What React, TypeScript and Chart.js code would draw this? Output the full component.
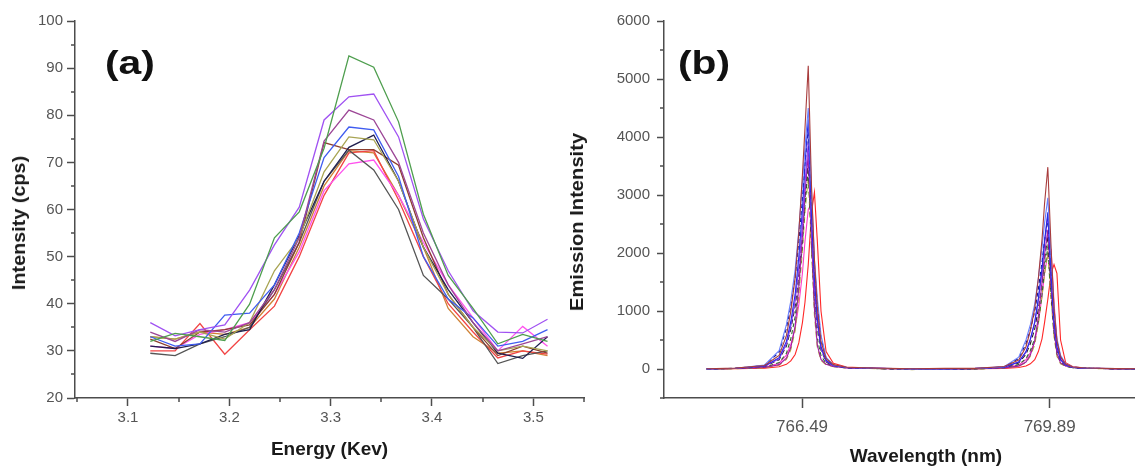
import React, { useEffect, useRef } from "react";
import { Chart, registerables } from "chart.js";
Chart.register(...registerables);

const FONT = "'Liberation Sans', Arial, Helvetica, sans-serif";
const AXIS = "#4d4d4d";
const TICK_TXT = "#555555";

// ---------- Panel (a): XRF peaks ----------
const ENERGY_KEV = [3.122, 3.1465, 3.171, 3.1955, 3.22, 3.2445, 3.269, 3.2935, 3.318, 3.3425, 3.367, 3.3915, 3.416, 3.4405, 3.465, 3.4895, 3.514];
const A_GREEN = [32.0, 33.7, 33.0, 32.2, 39.9, 54.0, 59.5, 73.0, 92.6, 90.2, 78.6, 59.0, 46.0, 39.0, 31.5, 33.5, 32.0];
const A_VIOLET = [36.0, 33.2, 34.5, 35.5, 42.9, 52.5, 60.5, 79.0, 83.9, 84.5, 75.4, 58.0, 47.0, 38.5, 34.0, 33.8, 36.7];
const A_PURPLE = [34.0, 32.0, 34.5, 34.0, 36.0, 43.0, 54.0, 74.5, 81.1, 79.0, 70.0, 55.0, 44.0, 36.0, 30.0, 31.5, 33.0];
const A_BLUE = [33.0, 31.0, 31.5, 37.6, 38.0, 44.0, 55.0, 71.0, 77.5, 76.9, 67.0, 50.0, 41.0, 37.0, 31.0, 32.0, 34.5];
const A_OLIVE = [33.0, 32.5, 34.0, 32.5, 36.0, 47.0, 54.0, 68.0, 75.4, 74.8, 66.0, 52.0, 42.0, 35.0, 30.0, 31.0, 30.0];
const A_NAVY = [31.0, 30.5, 31.5, 33.5, 34.5, 44.0, 54.5, 66.0, 73.2, 75.8, 66.0, 52.0, 43.0, 36.0, 29.5, 28.4, 33.0];
const A_BROWN = [32.5, 30.5, 34.0, 34.5, 35.5, 42.0, 53.0, 74.2, 72.7, 72.7, 69.4, 54.0, 42.0, 35.0, 29.0, 31.0, 29.5];
const A_GRAY = [29.5, 29.0, 31.5, 33.0, 35.0, 43.0, 53.0, 66.0, 72.6, 68.4, 60.0, 46.0, 41.0, 35.0, 27.3, 29.0, 30.0];
const A_PINK = [31.0, 30.5, 33.5, 34.5, 36.0, 42.0, 51.0, 64.0, 69.7, 70.5, 63.0, 53.0, 44.0, 37.0, 30.0, 35.2, 31.0];
const A_RED = [30.0, 30.0, 35.8, 29.3, 34.5, 39.5, 50.0, 63.0, 72.0, 72.5, 62.0, 50.0, 40.0, 34.0, 28.5, 30.0, 29.3];
const A_ORANGE = [33.0, 32.5, 34.0, 33.5, 35.0, 41.0, 52.0, 65.0, 72.5, 72.0, 63.0, 52.0, 39.0, 33.0, 29.5, 30.0, 29.0];

const A_X_MAJOR = [3.1, 3.2, 3.3, 3.4, 3.5];
const A_X_MINOR = [3.05, 3.15, 3.25, 3.35, 3.45, 3.55];
const A_Y_MAJOR = [20, 30, 40, 50, 60, 70, 80, 90, 100];
const A_Y_MINOR = [25, 35, 45, 55, 65, 75, 85, 95];

// ---------- Panel (b): emission spectra ----------
const WAVELENGTH_NM = [765.18, 765.575, 765.975, 766.175, 766.275, 766.335, 766.395, 766.445, 766.495, 766.53, 766.575, 766.62, 766.66, 766.70, 766.75, 766.82, 766.92, 767.1, 767.5, 768.0, 768.45, 768.865, 769.265, 769.465, 769.565, 769.625, 769.685, 769.735, 769.785, 769.82, 769.865, 769.91, 769.95, 769.99, 770.04, 770.11, 770.21, 770.39, 770.8, 771.3, 771.8];
const B_BROWN = [5, 15, 60, 235, 575, 990, 1570, 2350, 3350, 4150, 5230, 3150, 1880, 1050, 470, 180, 75, 30, 15, 5, 10, 10, 42, 155, 385, 660, 1045, 1565, 2230, 2850, 3480, 2090, 1045, 490, 210, 85, 35, 17, 7, 5, 10];
const B_LIGHTBLUE = [0, 14, 70, 315, 765, 1170, 1710, 2385, 3200, 3825, 4500, 3060, 1890, 1215, 585, 200, 70, 30, 12, 0, 5, 10, 40, 205, 500, 765, 1120, 1565, 2095, 2510, 2950, 1945, 1060, 530, 235, 90, 35, 18, 8, 0, 5];
const B_BLUE = [5, 13, 52, 195, 475, 815, 1290, 1935, 2750, 3525, 4300, 2665, 1550, 860, 385, 150, 60, 25, 12, 5, 0, 8, 32, 120, 300, 515, 810, 1215, 1730, 2215, 2700, 1620, 810, 380, 160, 68, 27, 14, 6, 5, 0];
const B_NAVY = [0, 12, 60, 290, 705, 1080, 1575, 2200, 2945, 3530, 4150, 2820, 1745, 1120, 540, 185, 65, 25, 10, 0, 5, 5, 35, 180, 440, 675, 990, 1380, 1845, 2210, 2600, 1715, 935, 470, 210, 80, 30, 15, 5, 0, 5];
const B_VIOLET = [5, 12, 47, 175, 430, 740, 1170, 1755, 2495, 3200, 3900, 2420, 1405, 780, 350, 135, 55, 22, 10, 5, 5, 10, 32, 120, 290, 505, 795, 1190, 1695, 2175, 2650, 1590, 795, 370, 160, 66, 27, 13, 5, 5, 5];
const B_PURPLE = [0, 8, 25, 75, 185, 370, 740, 1405, 2295, 3035, 3700, 2295, 1035, 405, 165, 80, 45, 20, 10, 0, 0, 5, 20, 50, 120, 240, 480, 910, 1490, 1970, 2400, 1440, 670, 265, 105, 50, 25, 12, 5, 0, 5];
const B_BLACK = [0, 10, 43, 160, 395, 685, 1080, 1620, 2305, 2950, 3600, 2230, 1295, 720, 325, 125, 50, 20, 8, -5, 0, 5, 28, 105, 255, 435, 690, 1035, 1470, 1885, 2300, 1380, 690, 320, 140, 58, 23, 12, 5, -5, 0];
const B_GREEN = [0, 8, 30, 110, 270, 520, 900, 1440, 2140, 2830, 3450, 2140, 1100, 520, 230, 95, 45, 20, 8, 0, -5, 0, 20, 75, 180, 320, 520, 820, 1280, 1720, 2100, 1260, 600, 260, 110, 48, 22, 11, 5, 0, 0];
const B_OLIVE = [0, 5, 20, 65, 165, 330, 660, 1255, 2045, 2705, 3300, 2045, 925, 365, 150, 72, 40, 18, 5, -10, -5, 0, 15, 50, 110, 220, 420, 780, 1260, 1640, 2000, 1200, 560, 220, 90, 44, 24, 12, 0, -5, -5];
const B_RED = [0, 5, 15, 40, 80, 140, 250, 450, 800, 1150, 1800, 2700, 3050, 2200, 1000, 300, 100, 35, 10, 5, 0, 5, 10, 25, 50, 90, 160, 300, 520, 800, 1200, 1650, 1800, 1650, 500, 110, 40, 15, 5, 0, 0];
const B_PINK = [0, 8, 30, 100, 240, 420, 700, 1100, 1650, 2200, 2750, 2850, 1800, 900, 380, 130, 55, 25, 10, 0, 5, 5, 20, 70, 160, 280, 470, 800, 1250, 1650, 1980, 2050, 1150, 480, 190, 75, 35, 15, 5, 0, 5];

const B_X_MAJOR = [766.49, 769.89];
const B_Y_MAJOR = [0, 1000, 2000, 3000, 4000, 5000, 6000];
const B_Y_MINOR = [-500, 500, 1500, 2500, 3500, 4500, 5500];

const A_SERIES = [
  { values: A_GREEN, color: "#4e9e4e" },
  { values: A_VIOLET, color: "#a052f2" },
  { values: A_PURPLE, color: "#9c4696" },
  { values: A_BLUE, color: "#3f5cf0" },
  { values: A_OLIVE, color: "#a8a452" },
  { values: A_NAVY, color: "#1e1e4e" },
  { values: A_BROWN, color: "#8c3e2e" },
  { values: A_GRAY, color: "#555555" },
  { values: A_PINK, color: "#ff52ee" },
  { values: A_RED, color: "#f24444" },
  { values: A_ORANGE, color: "#cf8236" },
];

const B_SERIES = [
  { values: B_BROWN, color: "#a83c3c", dash: [] as number[] },
  { values: B_LIGHTBLUE, color: "#6a80ff", dash: [] as number[] },
  { values: B_BLUE, color: "#2a2ae6", dash: [] as number[] },
  { values: B_NAVY, color: "#14148c", dash: [4, 3] },
  { values: B_VIOLET, color: "#8c3cf0", dash: [] as number[] },
  { values: B_PURPLE, color: "#a01ea0", dash: [] as number[] },
  { values: B_BLACK, color: "#222222", dash: [5, 3] },
  { values: B_GREEN, color: "#2e6e2e", dash: [4, 3] },
  { values: B_OLIVE, color: "#b5ad3c", dash: [6, 4] },
  { values: B_RED, color: "#ff2828", dash: [] as number[] },
  { values: B_PINK, color: "#ff3cc8", dash: [] as number[] },
];

function minorTickPlugin(specs: { axis: string; values: number[]; len: number }[]) {
  return {
    id: "minorTicks",
    afterDraw(chart: any) {
      const ctx = chart.ctx;
      const area = chart.chartArea;
      ctx.save();
      ctx.strokeStyle = AXIS;
      ctx.lineWidth = 1.5;
      for (const s of specs) {
        const scale = chart.scales[s.axis];
        for (const v of s.values) {
          const p = Math.round(scale.getPixelForValue(v));
          ctx.beginPath();
          if (scale.isHorizontal()) {
            ctx.moveTo(p, area.bottom);
            ctx.lineTo(p, area.bottom + s.len);
          } else {
            ctx.moveTo(area.left, p);
            ctx.lineTo(area.left - s.len, p);
          }
          ctx.stroke();
        }
      }
      ctx.restore();
    },
  };
}

function setTicks(values: number[]) {
  return (scale: any) => {
    scale.ticks = values.map((v) => ({ value: v }));
  };
}

export default function App() {
  const refA = useRef<HTMLCanvasElement>(null);
  const refB = useRef<HTMLCanvasElement>(null);

  useEffect(() => {
    const chartA = new Chart(refA.current as HTMLCanvasElement, {
      type: "line",
      data: {
        datasets: A_SERIES.map((s) => ({
          data: ENERGY_KEV.map((x, i) => ({ x, y: s.values[i] })),
          borderColor: s.color,
          borderWidth: 1.3,
          pointRadius: 0,
          tension: 0,
          fill: false,
        })),
      },
      options: {
        responsive: false,
        animation: false,
        devicePixelRatio: 1,
        layout: { autoPadding: false, padding: { left: 0, top: 21, right: 16, bottom: 0 } },
        plugins: { legend: { display: false }, tooltip: { enabled: false } },
        scales: {
          x: {
            type: "linear",
            min: 3.0477,
            max: 3.55,
            bounds: "data",
            afterBuildTicks: setTicks(A_X_MAJOR),
            afterFit: (s: any) => { s.height = 71; },
            ticks: {
              callback: (v: any) => Number(v).toFixed(1),
              color: TICK_TXT,
              font: { family: FONT, size: 15 },
              padding: 3,
              maxRotation: 0,
              autoSkip: false,
            },
            grid: { drawOnChartArea: false, drawTicks: true, tickLength: 8, tickColor: AXIS, tickWidth: 1.5 },
            border: { display: true, color: AXIS, width: 1.5 },
            title: {
              display: true,
              text: "Energy (Kev)",
              color: "#1a1a1a",
              font: { family: FONT, size: 19, weight: "bold" },
              padding: { top: 0, bottom: 8 },
            },
          },
          y: {
            type: "linear",
            min: 20,
            max: 100,
            bounds: "data",
            afterBuildTicks: setTicks(A_Y_MAJOR),
            afterFit: (s: any) => { s.width = 75; },
            ticks: { color: TICK_TXT, font: { family: FONT, size: 15 }, padding: 4, autoSkip: false },
            grid: { drawOnChartArea: false, drawTicks: true, tickLength: 8, tickColor: AXIS, tickWidth: 1.5 },
            border: { display: true, color: AXIS, width: 1.5 },
          },
        },
      } as any,
      plugins: [
        minorTickPlugin([
          { axis: "x", values: A_X_MINOR, len: 4 },
          { axis: "y", values: A_Y_MINOR, len: 4 },
        ]),
      ],
    });

    const chartB = new Chart(refB.current as HTMLCanvasElement, {
      type: "line",
      data: {
        datasets: B_SERIES.map((s) => ({
          data: WAVELENGTH_NM.map((x, i) => ({ x, y: s.values[i] })),
          borderColor: s.color,
          borderWidth: 1.1,
          borderDash: s.dash,
          pointRadius: 0,
          tension: 0,
          fill: false,
        })),
      },
      options: {
        responsive: false,
        animation: false,
        devicePixelRatio: 1,
        layout: { autoPadding: false, padding: { left: 0, top: 21, right: 2, bottom: 0 } },
        plugins: { legend: { display: false }, tooltip: { enabled: false } },
        scales: {
          x: {
            type: "linear",
            min: 764.594,
            max: 771.79,
            bounds: "data",
            afterBuildTicks: setTicks(B_X_MAJOR),
            afterFit: (s: any) => { s.height = 71; },
            ticks: {
              callback: (v: any) => Number(v).toFixed(2),
              color: TICK_TXT,
              font: { family: FONT, size: 17 },
              padding: 9,
              maxRotation: 0,
              autoSkip: false,
            },
            grid: { drawOnChartArea: false, drawTicks: true, tickLength: 10, tickColor: AXIS, tickWidth: 1.5 },
            border: { display: true, color: AXIS, width: 1.5 },
            title: {
              display: true,
              text: "Wavelength (nm)",
              color: "#1a1a1a",
              font: { family: FONT, size: 19, weight: "bold" },
              padding: { top: 0, bottom: 1 },
            },
          },
          y: {
            type: "linear",
            min: -500,
            max: 6000,
            bounds: "data",
            afterBuildTicks: setTicks(B_Y_MAJOR),
            afterFit: (s: any) => { s.width = 104; },
            ticks: {
              callback: (v: any) => String(v),
              color: TICK_TXT,
              font: { family: FONT, size: 15 },
              padding: 7,
              autoSkip: false,
            },
            grid: { drawOnChartArea: false, drawTicks: true, tickLength: 7, tickColor: AXIS, tickWidth: 1.5 },
            border: { display: true, color: AXIS, width: 1.5 },
          },
        },
      } as any,
      plugins: [minorTickPlugin([{ axis: "y", values: B_Y_MINOR, len: 4 }])],
    });

    return () => {
      chartA.destroy();
      chartB.destroy();
    };
  }, []);

  const yTitle = (cx: number, cy: number, stretch: number): React.CSSProperties => ({
    position: "absolute",
    left: cx,
    top: cy,
    transform: `translate(-50%, -50%) rotate(-90deg) scaleX(${stretch})`,
    whiteSpace: "nowrap",
    fontFamily: FONT,
    fontWeight: "bold",
    fontSize: 18,
    lineHeight: "20px",
    color: "#1a1a1a",
  });
  const panelLabel = (left: number): React.CSSProperties => ({
    position: "absolute",
    left,
    top: 45,
    fontFamily: FONT,
    fontWeight: "bold",
    fontSize: 34,
    lineHeight: "34px",
    color: "#111",
    whiteSpace: "nowrap",
    transform: "scaleX(1.2)",
    transformOrigin: "left top",
  });

  return (
    <div style={{ position: "absolute", left: 0, top: 0, width: 1135, height: 469, overflow: "hidden", background: "#fff" }}>
      <canvas ref={refA} width={600} height={469} style={{ position: "absolute", left: 0, top: 0, width: 600, height: 469 }} />
      <canvas ref={refB} width={630} height={469} style={{ position: "absolute", left: 560, top: 0, width: 630, height: 469 }} />
      <div style={yTitle(19, 223, 1.1)}>Intensity (cps)</div>
      <div style={yTitle(577, 222, 1.12)}>Emission Intensity</div>
      <div style={panelLabel(105)}>(a)</div>
      <div style={panelLabel(678)}>(b)</div>
    </div>
  );
}
